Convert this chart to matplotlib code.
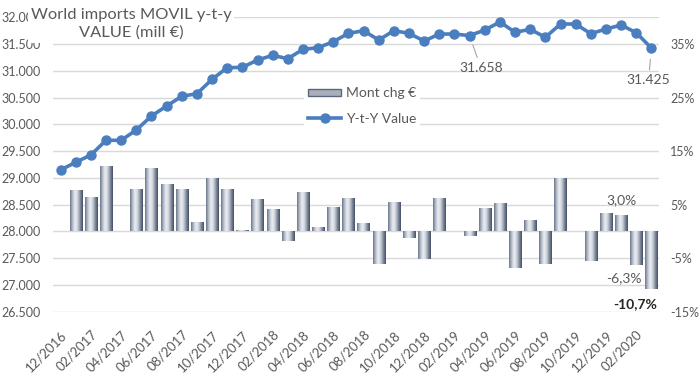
"""World imports MOVIL: rolling y-t-y value (line) and monthly change (bars)."""
import numpy as np
import matplotlib
matplotlib.use("Agg")
import matplotlib.pyplot as plt
from matplotlib.colors import LinearSegmentedColormap
from matplotlib.patches import Patch
from matplotlib.lines import Line2D

plt.rcParams["font.family"] = ["Lato", "DejaVu Sans"]

months = [
    "12/2016",
    "01/2017", "02/2017", "03/2017", "04/2017", "05/2017", "06/2017",
    "07/2017", "08/2017", "09/2017", "10/2017", "11/2017", "12/2017",
    "01/2018", "02/2018", "03/2018", "04/2018", "05/2018", "06/2018",
    "07/2018", "08/2018", "09/2018", "10/2018", "11/2018", "12/2018",
    "01/2019", "02/2019", "03/2019", "04/2019", "05/2019", "06/2019",
    "07/2019", "08/2019", "09/2019", "10/2019", "11/2019", "12/2019",
    "01/2020", "02/2020", "03/2020",
]

# y-t-y value, mill EUR
yty_value = [
    29148, 29291, 29428, 29702, 29702, 29895, 30156, 30343, 30524, 30573,
    30842, 31059, 31065, 31202, 31290, 31227, 31402, 31432, 31544, 31701,
    31750, 31576, 31750, 31701, 31557, 31688, 31688, 31658, 31763, 31912,
    31720, 31776, 31626, 31875, 31875, 31694, 31781, 31856, 31712, 31425,
]

# monthly change, %
month_chg = [
    np.nan, 7.8, 6.4, 12.2, 0.0, 8.0, 11.9, 8.8, 8.0, 1.8,
    9.9, 8.0, 0.3, 6.0, 4.2, -1.8, 7.4, 0.9, 4.6, 6.3,
    1.5, -6.1, 5.5, -1.3, -5.1, 6.3, 0.0, -0.8, 4.4, 5.4,
    -6.9, 2.2, -6.1, 9.9, 0.0, -5.6, 3.5, 3.0, -6.3, -10.7,
]

left_ticks = [26500, 27000, 27500, 28000, 28500, 29000, 29500,
              30000, 30500, 31000, 31500, 32000]
right_ticks = [-15, -10, -5, 0, 5, 10, 15, 20, 25, 30, 35, 40]
right_labelled = [-15, -5, 5, 15, 25, 35]

TXT = "#595959"
GRID = "#d9d9d9"
BLUE = "#4a7ebf"

fig = plt.figure(figsize=(7.0, 3.9), dpi=100)
ax_pct = fig.add_axes([0.0757, 0.2008, 0.8657, 0.7548])
ax_val = ax_pct.twinx()
ax_val.set_zorder(ax_pct.get_zorder() + 1)
ax_val.patch.set_visible(False)

x = np.arange(len(months))

# bars with a metallic cylinder look
cyl = LinearSegmentedColormap.from_list(
    "cyl", ["#6a758a", "#b8bfcb", "#eceef3", "#cbd1da", "#7f8a9d", "#465064"])
bars = ax_pct.bar(x, np.nan_to_num(month_chg), width=0.8,
                  facecolor="none", edgecolor="none", zorder=2)
grad = np.linspace(0, 1, 64)[None, :]
for rect, v in zip(bars, month_chg):
    if not np.isfinite(v) or v == 0:
        continue
    x0, w = rect.get_x(), rect.get_width()
    y0, y1 = sorted([rect.get_y(), rect.get_y() + rect.get_height()])
    im = ax_pct.imshow(grad, extent=[x0, x0 + w, y0, y1], aspect="auto",
                       cmap=cyl, origin="lower", zorder=2)
    im.set_clip_path(rect)

ax_pct.set_yticks(right_ticks)
ax_pct.set_yticklabels([f"{t}%" if t in right_labelled else "" for t in right_ticks])
ax_pct.yaxis.tick_right()
ax_pct.set_ylim(-15, 40)
ax_pct.grid(axis="y", color=GRID, linewidth=1.0, zorder=0)
ax_pct.set_axisbelow(True)

# line
ax_val.plot(x, yty_value, color=BLUE, linewidth=2.6, marker="o",
            markersize=6.5, zorder=3)
ax_val.yaxis.tick_left()
ax_val.set_yticks(left_ticks)
ax_val.set_yticklabels([f"{t:,.0f}".replace(",", ".") for t in left_ticks])
ax_val.set_ylim(26500, 32000)

for a in (ax_pct, ax_val):
    a.set_xlim(-0.5, len(months) - 0.5)
    for s in a.spines.values():
        s.set_visible(False)
    a.tick_params(length=0, labelsize=9, labelcolor=TXT)
ax_pct.tick_params(axis="y", pad=8)
ax_val.tick_params(axis="y", pad=9)

ax_pct.set_xticks(x[::2])
ax_pct.set_xticklabels(months[::2], rotation=45, ha="right",
                       rotation_mode="anchor", va="top", fontsize=9.5)
ax_pct.tick_params(axis="x", pad=12)

# data labels on the line
i_mid = months.index("03/2019")
ax_val.annotate(f"{yty_value[i_mid] / 1000:.3f}", xy=(x[i_mid], yty_value[i_mid]),
                xytext=(8, -23), textcoords="offset points", ha="center",
                va="center", fontsize=10, color=TXT,
                arrowprops=dict(arrowstyle="-", color="#a6a6a6", lw=0.8,
                                shrinkA=1, shrinkB=7))
i_end = len(months) - 1
ax_val.annotate(f"{yty_value[i_end] / 1000:.3f}", xy=(x[i_end], yty_value[i_end]),
                xytext=(-2, -23), textcoords="offset points", ha="center",
                va="center", fontsize=10, color=TXT,
                arrowprops=dict(arrowstyle="-", color="#a6a6a6", lw=0.8,
                                shrinkA=1, shrinkB=8))

# data labels on the last bars
for i, dx, dy, bold in ((37, 0, 11, False), (38, -9, -9.5, False),
                        (39, -12, -11, True)):
    v = month_chg[i]
    ax_pct.annotate(f"{v:.1f}%".replace(".", ","), xy=(x[i], v),
                    xytext=(dx, dy), textcoords="offset points",
                    ha="center", va="center", fontsize=10,
                    color="#262626" if bold else TXT,
                    fontweight="bold" if bold else "normal")

# legend
handles = [Patch(facecolor="#a9b0bc", edgecolor="#5d6779"),
           Line2D([], [], color=BLUE, linewidth=2.6, marker="o", markersize=6.5)]
leg = ax_val.legend(handles, ["Mont chg €", "Y-t-Y Value"], loc="center left",
                    bbox_to_anchor=(297 / 700, 1 - 106 / 390),
                    bbox_transform=fig.transFigure, frameon=True,
                    facecolor="white", edgecolor="none", framealpha=1,
                    fontsize=10, handlelength=2.4, handleheight=0.5,
                    labelspacing=0.95, borderpad=0.3, handletextpad=0.3)
for t in leg.get_texts():
    t.set_color(TXT)

# title box overlapping the top of the chart
fig.text(131 / 700, 1 - 24 / 390, "World imports MOVIL y-t-y\nVALUE (mill €)",
         ha="center", va="center", fontsize=11.8, color=TXT, linespacing=1.3,
         bbox=dict(facecolor="white", edgecolor="none", pad=2))

fig.savefig("out.png", dpi=100)
